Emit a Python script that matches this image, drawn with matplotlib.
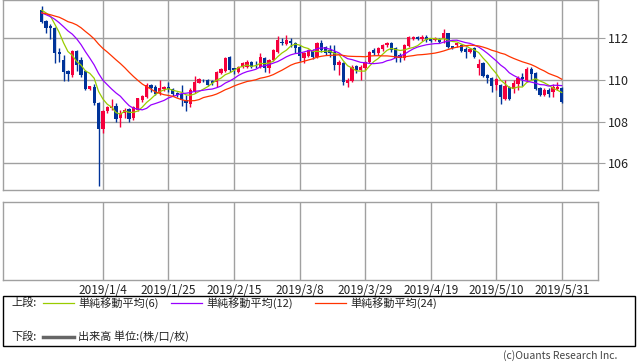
import matplotlib
matplotlib.use("Agg")
import matplotlib.pyplot as plt
from matplotlib.lines import Line2D
from matplotlib.patches import Rectangle
import pandas as pd

plt.rcParams['font.family'] = ['Noto Sans CJK JP', 'DejaVu Sans']

# daily candles 2018/12/17 - 2019/5/31 (weekdays)
dates = pd.bdate_range("2018-12-17", "2019-05-31")

opens = [113.36, 112.85, 112.60, 112.48, 111.33, 110.96, 110.45, 110.24, 111.41, 110.96,
         110.43, 109.55, 109.68, 108.91, 107.63, 108.53, 108.64, 108.75, 108.20, 108.40,
         108.60, 108.16, 108.56, 109.04, 109.20, 109.76, 109.68, 109.36, 109.55, 109.65,
         109.55, 109.36, 109.33, 109.04, 108.85, 109.49, 109.87, 110.00, 110.00, 109.95,
         109.92, 110.35, 110.45, 111.12, 110.56, 110.40, 110.64, 110.64, 110.88, 110.72,
         110.64, 111.04, 110.56, 110.96, 111.36, 111.81, 111.71, 111.89, 111.76, 111.60,
         111.04, 111.15, 111.41, 111.12, 111.76, 111.60, 111.44, 111.36, 110.72, 110.83,
         109.84, 109.95, 110.67, 110.48, 110.56, 110.88, 111.44, 111.28, 111.47, 111.68,
         111.76, 111.52, 111.20, 111.04, 111.65, 111.95, 112.05, 111.95, 112.08, 112.00,
         111.92, 111.95, 112.00, 112.24, 111.63, 111.68, 111.68, 111.47, 111.36, 111.52,
         110.56, 110.83, 110.24, 110.08, 109.74, 109.74, 109.10, 109.66, 109.59, 109.83,
         110.14, 109.98, 110.51, 110.35, 109.62, 109.26, 109.54, 109.42, 109.59, 109.62]
highs = [113.55, 112.90, 112.70, 112.55, 111.52, 111.20, 110.48, 111.44, 111.44, 111.09,
         110.48, 109.73, 109.81, 108.95, 108.56, 108.75, 109.07, 108.88, 108.56, 108.64,
         108.64, 108.75, 109.15, 109.30, 109.84, 109.79, 109.75, 110.00, 109.70, 109.92,
         109.60, 109.42, 109.76, 109.28, 109.60, 110.19, 110.08, 110.05, 110.05, 110.00,
         110.45, 110.60, 111.10, 111.15, 110.60, 110.67, 110.85, 110.96, 110.93, 110.91,
         111.28, 111.12, 111.00, 111.50, 112.11, 112.00, 112.16, 112.00, 111.84, 111.68,
         111.36, 111.50, 111.47, 111.84, 111.92, 111.65, 111.68, 111.68, 110.96, 110.88,
         110.08, 110.72, 110.72, 110.70, 110.93, 111.41, 111.52, 111.57, 111.73, 111.84,
         111.81, 111.57, 111.28, 111.73, 112.11, 112.13, 112.10, 112.16, 112.16, 112.03,
         112.05, 112.00, 112.43, 112.27, 111.65, 111.79, 111.73, 111.60, 111.55, 111.57,
         111.00, 110.88, 110.29, 110.13, 110.10, 109.80, 109.98, 109.72, 109.98, 110.19,
         110.35, 110.64, 110.64, 110.40, 109.68, 109.60, 109.62, 109.82, 109.90, 109.66]
lows = [112.72, 112.24, 111.95, 110.80, 110.88, 109.97, 109.97, 110.13, 110.45, 110.13,
        109.52, 109.50, 108.80, 104.93, 107.47, 108.40, 108.56, 107.98, 107.76, 108.16,
        107.98, 108.10, 108.50, 108.96, 109.12, 109.44, 109.28, 109.28, 109.45, 109.44,
        109.25, 109.20, 108.75, 108.51, 108.69, 109.39, 109.84, 109.90, 109.70, 109.75,
        109.65, 110.30, 110.40, 110.40, 110.30, 110.35, 110.56, 110.56, 110.56, 110.56,
        110.56, 110.40, 110.32, 110.90, 111.28, 111.68, 111.68, 111.60, 111.28, 110.90,
        110.80, 111.10, 111.00, 111.04, 111.36, 111.20, 111.10, 110.48, 110.24, 109.76,
        109.68, 109.90, 110.35, 110.00, 110.50, 110.83, 111.20, 111.20, 111.41, 111.60,
        111.36, 110.88, 110.88, 110.96, 111.60, 111.90, 111.90, 111.89, 111.84, 111.84,
        111.87, 111.79, 111.76, 111.52, 111.47, 111.60, 111.36, 111.04, 111.28, 111.04,
        110.24, 110.13, 109.87, 109.44, 109.50, 108.87, 109.02, 109.02, 109.40, 109.52,
        109.71, 109.92, 110.00, 109.52, 109.22, 109.23, 109.20, 109.18, 109.52, 108.91]
closes = [112.80, 112.51, 112.48, 111.28, 111.23, 110.40, 110.29, 111.41, 110.72, 110.24,
          109.55, 109.71, 108.88, 107.63, 108.53, 108.72, 108.72, 108.14, 108.40, 108.56,
          108.14, 108.72, 109.12, 109.23, 109.76, 109.60, 109.33, 109.60, 109.65, 109.55,
          109.31, 109.30, 109.04, 108.88, 109.52, 109.92, 110.03, 109.98, 109.76, 109.84,
          110.40, 110.51, 111.04, 110.48, 110.48, 110.64, 110.80, 110.88, 110.64, 110.70,
          111.12, 110.56, 110.96, 111.44, 111.92, 111.79, 111.92, 111.76, 111.52, 111.15,
          111.28, 111.44, 111.09, 111.76, 111.44, 111.28, 111.31, 110.72, 110.88, 109.92,
          110.00, 110.64, 110.48, 110.64, 110.88, 111.36, 111.31, 111.52, 111.68, 111.79,
          111.44, 111.04, 111.04, 111.68, 112.08, 112.08, 111.95, 112.05, 111.92, 111.89,
          112.00, 111.84, 112.24, 111.60, 111.52, 111.76, 111.41, 111.36, 111.50, 111.09,
          110.77, 110.19, 110.08, 109.71, 110.06, 109.18, 109.70, 109.10, 109.86, 110.10,
          110.03, 110.51, 110.27, 109.59, 109.26, 109.54, 109.35, 109.66, 109.66, 108.95]
# closes before the window, needed for the moving averages
prior_closes = [113.60, 113.60, 112.80, 112.60, 112.80, 113.00, 112.90, 112.95, 113.55, 113.80,
                113.70, 113.45, 113.55, 113.60, 112.80, 113.20, 112.70, 112.70, 113.30, 113.40,
                113.60, 113.60, 113.40]

ma_periods = [6, 12, 24]
ma_colors = ["#99cc00", "#9900ff", "#ff3300"]
tick_every = 15
first_tick = 14

RED = "#f5003c"
BLUE = "#003399"
GRID = "#a0a0a0"

fig = plt.figure(figsize=(6.38, 3.62), dpi=100)
ax = fig.add_axes([3 / 638, 1 - 190 / 362, 595 / 638, 190 / 362])
ax2 = fig.add_axes([3 / 638, 1 - 280 / 362, 595 / 638, 78 / 362])

x = list(range(len(dates)))
colors = [RED if c >= o else BLUE for o, c in zip(opens, closes)]
bottoms = [min(o, c) for o, c in zip(opens, closes)]
heights = [max(abs(c - o), 0.04) for o, c in zip(opens, closes)]

ax.vlines(x, lows, highs, colors=colors, linewidth=1.0, zorder=3)
ax.bar(x, heights, bottom=bottoms, width=0.75, color=colors, linewidth=0, zorder=4)

all_closes = pd.Series(prior_closes + closes)
for n, col in zip(ma_periods, ma_colors):
    ma = all_closes.rolling(n).mean().iloc[-len(closes):].values
    ax.plot(x, ma, color=col, linewidth=0.9, zorder=5)

tick_pos = list(range(first_tick, len(dates), tick_every))
tick_lab = [f"{dates[i].year}/{dates[i].month}/{dates[i].day}" for i in tick_pos]

for a in (ax, ax2):
    a.set_xlim(-8.86, 127.3)
    a.set_xticks(tick_pos)
    a.grid(True, axis="x", color=GRID, linewidth=1.0)
    for s in a.spines.values():
        s.set_color(GRID)
        s.set_linewidth(1.0)
    a.set_axisbelow(True)

ax.set_ylim(104.72, 113.84)
ax.set_yticks([106, 108, 110, 112])
ax.yaxis.tick_right()
ax.grid(True, axis="y", color=GRID, linewidth=1.0)
ax.tick_params(axis="y", length=5, color=GRID, labelsize=9, pad=2, labelcolor="#222222")
ax.tick_params(axis="x", length=0, labelbottom=False)

ax2.set_yticks([])
ax2.set_xticklabels(tick_lab)
ax2.tick_params(axis="x", length=0, labelsize=8.5, pad=3, labelcolor="#222222")

# legend box
fig.patches.append(Rectangle((3 / 638, 1 - 346 / 362), 632 / 638, 50 / 362,
                             transform=fig.transFigure, fill=False, edgecolor="black", linewidth=1.0))

row1 = 1 - 303 / 362
row2 = 1 - 337 / 362
fig.text(11 / 638, row1, "上段:", fontsize=8, va="center", color="#222222")
legend_x = [(43, 78), (171, 206), (315, 350)]
for (lx, tx), n, col in zip(legend_x, ma_periods, ma_colors):
    fig.lines.append(Line2D([lx / 638, (lx + 31) / 638], [row1, row1], transform=fig.transFigure,
                            color=col, linewidth=0.9))
    fig.text(tx / 638, row1, f"単純移動平均({n})", fontsize=8, va="center", color="#222222")

fig.text(11 / 638, row2, "下段:", fontsize=8, va="center", color="#222222")
fig.lines.append(Line2D([43 / 638, 74 / 638], [row2, row2], transform=fig.transFigure,
                        color="#666666", linewidth=2.5))
fig.text(78 / 638, row2, "出来高 単位:(株/口/枚)", fontsize=8, va="center", color="#222222")

fig.text(617 / 638, 1 - 356 / 362, "(c)Ouants Research Inc.", fontsize=7.5,
         ha="right", va="center", color="#444444")

fig.savefig("out.png", dpi=100)
